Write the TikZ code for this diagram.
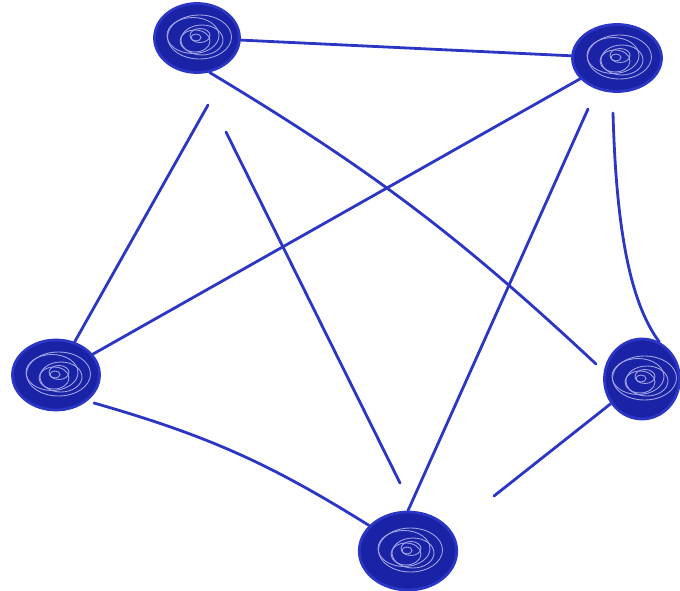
\documentclass[tikz,border=0pt]{standalone}
\usepackage{tikz}
\usetikzlibrary{arrows.meta, positioning, shapes.geometric}
\usepackage{xcolor}
\definecolor{inkblue}{HTML}{2C36C4}
\definecolor{inkdark}{HTML}{1A22A6}

\begin{document}
\begin{tikzpicture}[
  x=0.02cm, y=-0.02cm,
  scribble/.style={ellipse, draw=inkblue, line width=1.6pt, fill=inkdark, inner sep=0pt,
    path picture={
      \foreach \rx/\ry/\rot/\dx/\dy in {0.64/0.44/10/0.05/0.02, 0.52/0.36/-15/-0.08/0.05,
          0.42/0.3/25/0.1/-0.04, 0.3/0.22/-5/-0.04/-0.06, 0.2/0.14/40/0.06/0.05, 0.1/0.07/0/-0.02/0.01}
        \draw[inkblue!45!white, line width=0.5pt, rotate=\rot]
          (path picture bounding box.center) ++(\dx cm,\dy cm) ellipse [x radius=\rx cm, y radius=\ry cm];
    }},
  link/.style={draw=inkblue, line width=1.6pt, line cap=round}
]
\useasboundingbox (0,0) rectangle (680,591);

\node[scribble, minimum width=1.7cm, minimum height=1.38cm] (A) at (197,38) {};
\node[scribble, minimum width=1.78cm, minimum height=1.34cm] (B) at (617,58) {};
\node[scribble, minimum width=1.74cm, minimum height=1.4cm] (C) at (56,375) {};
\node[scribble, minimum width=1.95cm, minimum height=1.56cm] (D) at (408,551) {};
\node[scribble, minimum width=1.5cm, minimum height=1.6cm] (E) at (642,379) {};

\coordinate (a1) at (208,105);
\coordinate (a2) at (226,132);
\coordinate (d1) at (400,483);
\coordinate (b1) at (588,109);
\coordinate (b2) at (613,113);
\coordinate (e1) at (596,364);
\coordinate (c1) at (94,403);
\coordinate (d2) at (494,496);

\draw[link] (A) -- (B);
\draw[link] (A.-70) to[bend left=6] (e1);
\draw[link] (C) -- (a1);
\draw[link] (a2) -- (d1);
\draw[link] (C) -- (B);
\draw[link] (D.north) -- (b1);
\draw[link] (E.65) .. controls (628,300) and (616,220) .. (b2);
\draw[link] (c1) to[bend left=8] (D);
\draw[link] (E) -- (d2);
\end{tikzpicture}
\end{document}
